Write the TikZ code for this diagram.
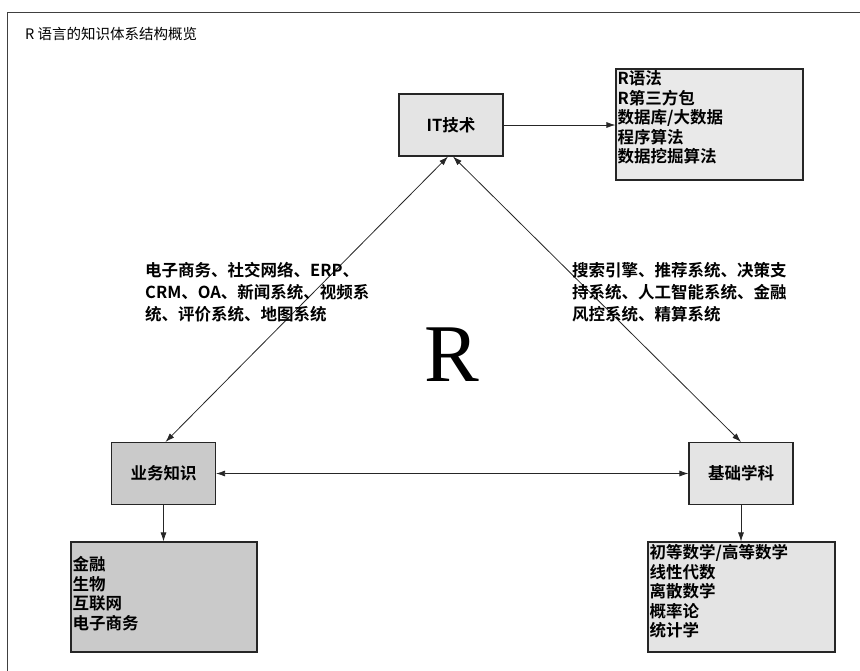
\documentclass[tikz,border=0pt]{standalone}
\usepackage{fontspec}
\newfontfamily\cjk{Noto Sans CJK SC}
\newfontfamily\cjkb{Noto Sans CJK SC Bold}
\newfontfamily\rserif{Liberation Serif}
\usetikzlibrary{arrows.meta,calc}
\definecolor{lightbox}{HTML}{E4E4E4}
\definecolor{darkbox}{HTML}{CACACA}
\begin{document}
\begin{tikzpicture}[x=1pt,y=-1pt,
  box/.style={draw=black!85,line width=1.1pt,minimum width=104pt,minimum height=62pt,inner sep=0pt,font=\cjkb\fontsize{16.5}{18}\selectfont},
  listtext/.style={anchor=north west,inner sep=0pt,align=left,font=\cjkb\fontsize{16.5}{19.5}\selectfont},
  lab/.style={anchor=north west,inner sep=0pt,align=left,font=\cjkb\fontsize{16.5}{22}\selectfont},
  arr/.style={-{Latex[length=9pt,width=6pt]},line width=0.8pt,black!85},
  darr/.style={{Latex[length=9pt,width=6pt]}-{Latex[length=9pt,width=6pt]},line width=0.8pt,black!85}]
\useasboundingbox (0,0) rectangle (860,670);
\draw[line width=1pt,black!75] (7,675) -- (7,12) -- (865,12);
\node[anchor=west,inner sep=0pt,font=\cjk\fontsize{14.5}{16}\selectfont] (title) at (25,34) {R 语言的知识体系结构概览};
% main boxes
\node[box,fill=lightbox] (it) at (451,125) {IT技术};
\node[box,fill=darkbox] (yw) at (163.5,473.5) {业务知识};
\node[box,fill=lightbox] (jc) at (741,473.5) {基础学科};
% list boxes
\node[draw=black!85,line width=1.1pt,fill=lightbox!80,minimum width=187pt,minimum height=111pt,inner sep=0pt] (itl) at (709.5,124.5) {};
\node[listtext] (itt) at ($(itl.north west)+(2,2)$) {R语法\\R第三方包\\数据库/大数据\\程序算法\\数据挖掘算法};
\node[draw=black!85,line width=1.1pt,fill=darkbox,minimum width=186pt,minimum height=110pt,inner sep=0pt] (ywl) at (164,597) {};
\node[listtext] (ywt) at ($(ywl.north west)+(2,15)$) {金融\\生物\\互联网\\电子商务};
\node[draw=black!85,line width=1.1pt,fill=lightbox,minimum width=187pt,minimum height=110pt,inner sep=0pt] (jcl) at (741.5,597) {};
\node[listtext] (jct) at ($(jcl.north west)+(2,3)$) {初等数学/高等数学\\线性代数\\离散数学\\概率论\\统计学};
% connectors
\draw[arr] (it.east) -- (itl.west |- it.east);
\draw[arr] (yw.south) -- (yw.south |- ywl.north);
\draw[arr] (jc.south) -- (jc.south |- jcl.north);
\draw[darr] (yw.east) -- (jc.west);
\draw[darr] ([xshift=-3pt]it.south) -- ([xshift=2pt]yw.north);
\draw[darr] ([xshift=2pt]it.south) -- (jc.north);
% labels
\node[lab] (ll) at (145,262) {电子商务、社交网络、ERP、\\CRM、OA、新闻系统、视频系\\统、评价系统、地图系统};
\node[lab] (rl) at (572,262) {搜索引擎、推荐系统、决策支\\持系统、人工智能系统、金融\\风控系统、精算系统};
\node[font=\rserif\fontsize{82}{82}\selectfont,inner sep=0pt] (r) at (452,355) {R};
\end{tikzpicture}
\end{document}
